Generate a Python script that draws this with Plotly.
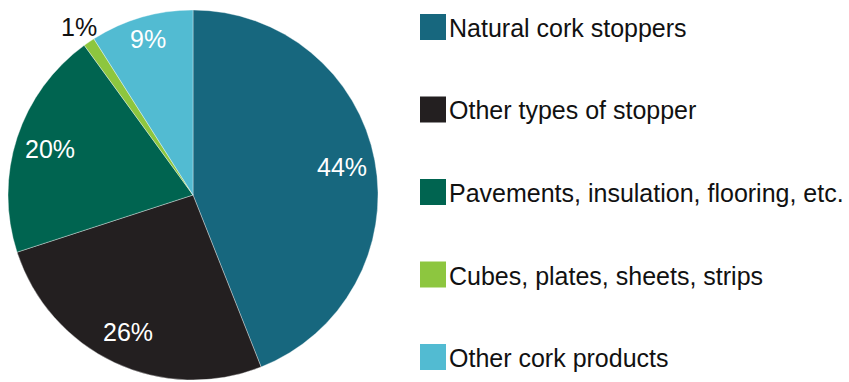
import math
import plotly.graph_objects as go

# Cork product export shares (%)
categories = [
    "Natural cork stoppers",
    "Other types of stopper",
    "Pavements, insulation, flooring, etc.",
    "Cubes, plates, sheets, strips",
    "Other cork products",
]
shares = [44, 26, 20, 1, 9]
colors = ["#17677e", "#231f20", "#006450", "#8dc63f", "#52bbd2"]

# label styling: radial distance (fraction of radius) and colour
label_radius = [0.82, 0.82, 0.81, 1.10, 0.88]
label_color = ["white", "white", "white", "#111111", "white"]

W, H = 849, 382
FONT = "Liberation Sans, Arial, Helvetica, sans-serif"

# pie placement in pixels
pie_left, pie_right, pie_top, pie_bottom = 7, 379, 10, 380
dom_x = [pie_left / W, pie_right / W]
dom_y = [1 - pie_bottom / H, 1 - pie_top / H]

fig = go.Figure(
    go.Pie(
        labels=categories,
        values=shares,
        sort=False,
        direction="clockwise",
        rotation=0,
        marker=dict(colors=colors, line=dict(color="rgba(255,255,255,0.6)", width=0.6)),
        textinfo="none",
        hoverinfo="label+percent",
        showlegend=False,
        domain=dict(x=dom_x, y=dom_y),
    )
)

annotations = []
shapes = []

# percentage labels placed at each slice's mid-angle
cx = (pie_left + pie_right) / 2
cy = (pie_top + pie_bottom) / 2
r = min(pie_right - pie_left, pie_bottom - pie_top) / 2
total = sum(shares)
cum = 0.0
for v, f, c in zip(shares, label_radius, label_color):
    mid = (cum + v / 2) / total * 2 * math.pi
    cum += v
    px = cx + r * f * math.sin(mid)
    py = cy - r * f * math.cos(mid)
    annotations.append(dict(
        x=px / W, y=1 - py / H, xref="paper", yref="paper",
        text=f"{v}%", showarrow=False, xanchor="center", yanchor="middle",
        font=dict(family=FONT, size=25, color=c),
    ))

# legend: square swatches with labels
sw_x0, sw_size, leg_y0, leg_step = 420, 26, 27, 82.5
for i, (name, col) in enumerate(zip(categories, colors)):
    yc = leg_y0 + i * leg_step
    shapes.append(dict(
        type="rect", xref="paper", yref="paper",
        x0=sw_x0 / W, x1=(sw_x0 + sw_size) / W,
        y0=1 - (yc + sw_size / 2) / H, y1=1 - (yc - sw_size / 2) / H,
        fillcolor=col, line=dict(width=0),
    ))
    annotations.append(dict(
        x=(sw_x0 + sw_size + 1) / W, y=1 - (yc + 1) / H, xref="paper", yref="paper",
        text=name, showarrow=False, xanchor="left", yanchor="middle",
        font=dict(family=FONT, size=25, color="#111111"),
    ))

fig.update_layout(
    width=W, height=H,
    margin=dict(l=0, r=0, t=0, b=0),
    paper_bgcolor="white", plot_bgcolor="white",
    annotations=annotations, shapes=shapes,
)

fig.write_html("out.html")
